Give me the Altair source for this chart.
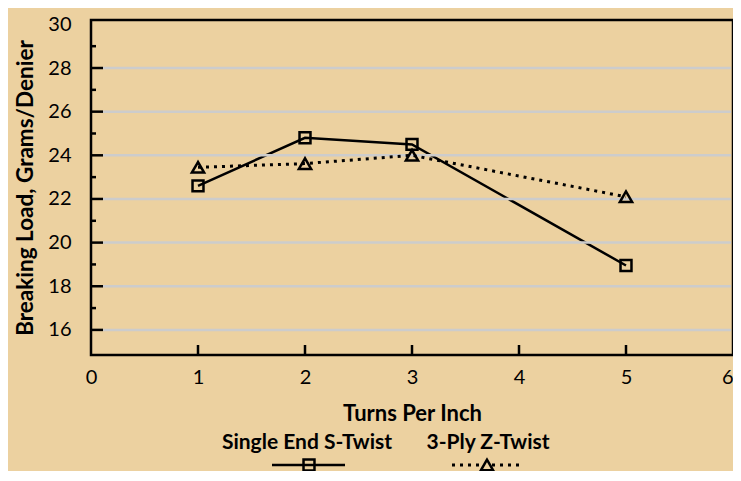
import altair as alt
import pandas as pd

turns = [1, 2, 3, 5]
single_end = [22.6, 24.8, 24.5, 18.95]
three_ply = [23.45, 23.62, 24.0, 22.1]
series_names = ["Single End S-Twist", "3-Ply Z-Twist"]
y_major = [16, 18, 20, 22, 24, 26, 28]
y_minor = [17, 19, 21, 23, 25, 27, 29]
y_labels = [16, 18, 20, 22, 24, 26, 28, 30]
x_ticks = [1, 2, 3, 4, 5]
x_labels = [0, 1, 2, 3, 4, 5, 6]

W, H = 642, 335
BG = "#ECD1A0"
FONT = "Lato"

df = pd.DataFrame({
    "turns": turns * 2,
    "load": single_end + three_ply,
    "series": [series_names[0]] * 4 + [series_names[1]] * 4,
})
df_s = df[df.series == series_names[0]]
df_p = df[df.series == series_names[1]]

xs = alt.Scale(domain=[0, 6], nice=False, zero=False)
ys = alt.Scale(domain=[14.85, 30.2], nice=False, zero=False)

x_axis = alt.Axis(values=x_labels, title="Turns Per Inch", domain=False, ticks=False, tickSize=0,
                  grid=False, labelFontSize=20, labelPadding=12, titleFontSize=22,
                  titleFontWeight="bold", titlePadding=16, labelFont=FONT, titleFont=FONT,
                  labelColor="black", titleColor="black", format="d", labelFlush=False,
                  labelAlign={"condition": {"test": "datum.value >= 6", "value": "right"},
                              "value": "center"})
y_axis = alt.Axis(values=y_labels, title="Breaking Load, Grams/Denier", domain=False, ticks=False,
                  tickSize=0, grid=False, labelFontSize=20, labelPadding=20, titleFontSize=22.5,
                  titleFontWeight="bold", titlePadding=10, labelFont=FONT, titleFont=FONT,
                  labelColor="black", titleColor="black", format="d")

line_s = alt.Chart(df_s).mark_line(color="black", strokeWidth=2.5).encode(
    x=alt.X("turns:Q", scale=xs, axis=x_axis), y=alt.Y("load:Q", scale=ys, axis=y_axis))
line_p = alt.Chart(df_p).mark_line(color="black", strokeWidth=3, strokeDash=[3, 5]).encode(
    x=alt.X("turns:Q", scale=xs), y=alt.Y("load:Q", scale=ys))

grid = alt.Chart(pd.DataFrame({"v": y_major})).mark_rule(color="#CCCCCC", strokeWidth=2.5).encode(
    y=alt.Y("v:Q", scale=ys), x=alt.value(12), x2=alt.value(W - 2))
major = alt.Chart(pd.DataFrame({"v": y_major})).mark_rule(color="black", strokeWidth=2.5).encode(
    y=alt.Y("v:Q", scale=ys), x=alt.value(0), x2=alt.value(12))
minor = alt.Chart(pd.DataFrame({"v": y_minor})).mark_rule(color="black", strokeWidth=2.5).encode(
    y=alt.Y("v:Q", scale=ys), x=alt.value(0), x2=alt.value(5))
xt = alt.Chart(pd.DataFrame({"v": x_ticks})).mark_rule(color="black", strokeWidth=2.5).encode(
    x=alt.X("v:Q", scale=xs), y=alt.value(H), y2=alt.value(H - 10))

pt_s = alt.Chart(df_s).mark_point(shape="square", filled=False, color="black", strokeWidth=2.5,
                                  size=120, opacity=1).encode(
    x=alt.X("turns:Q", scale=xs), y=alt.Y("load:Q", scale=ys))
pt_p = alt.Chart(df_p).mark_point(shape="triangle-up", filled=False, color="black", strokeWidth=2.5,
                                  size=150, opacity=1).encode(
    x=alt.X("turns:Q", scale=xs), y=alt.Y("load:Q", scale=ys))

# legend
leg_y_text, leg_y_sym = 423, 445
lg1 = pd.DataFrame({"name": [series_names[0]]})
lg2 = pd.DataFrame({"name": [series_names[1]]})
txt1 = alt.Chart(lg1).mark_text(font=FONT, fontSize=21, fontWeight="bold", color="black").encode(
    text="name:N", x=alt.value(216), y=alt.value(leg_y_text))
txt2 = alt.Chart(lg2).mark_text(font=FONT, fontSize=21, fontWeight="bold", color="black").encode(
    text="name:N", x=alt.value(397), y=alt.value(leg_y_text))
lr1 = alt.Chart(lg1).mark_rule(color="black", strokeWidth=2.5).encode(
    x=alt.value(181), x2=alt.value(254), y=alt.value(leg_y_sym))
lr2 = alt.Chart(lg2).mark_rule(color="black", strokeWidth=3, strokeDash=[3, 5]).encode(
    x=alt.value(361), x2=alt.value(431), y=alt.value(leg_y_sym))
lp1 = alt.Chart(lg1).mark_point(shape="square", filled=False, color="black", strokeWidth=2.5,
                                size=120, opacity=1).encode(
    x=alt.value(218), y=alt.value(leg_y_sym))
lp2 = alt.Chart(lg2).mark_point(shape="triangle-up", filled=True, fill=BG, stroke="black",
                                strokeWidth=2.5, size=150, opacity=1).encode(
    x=alt.value(396), y=alt.value(leg_y_sym))

chart = alt.layer(line_s, grid, major, minor, xt, line_p, pt_p, pt_s,
                  txt1, txt2, lr1, lr2, lp1, lp2).properties(
    width=W, height=H,
    autosize=alt.AutoSizeParams(type="none"),
    padding={"left": 83, "top": 12, "right": 0, "bottom": 116},
    background=BG,
).configure_view(stroke="black", strokeWidth=2.5)

chart.save("out.html", embed_options={"renderer": "svg", "actions": False})
